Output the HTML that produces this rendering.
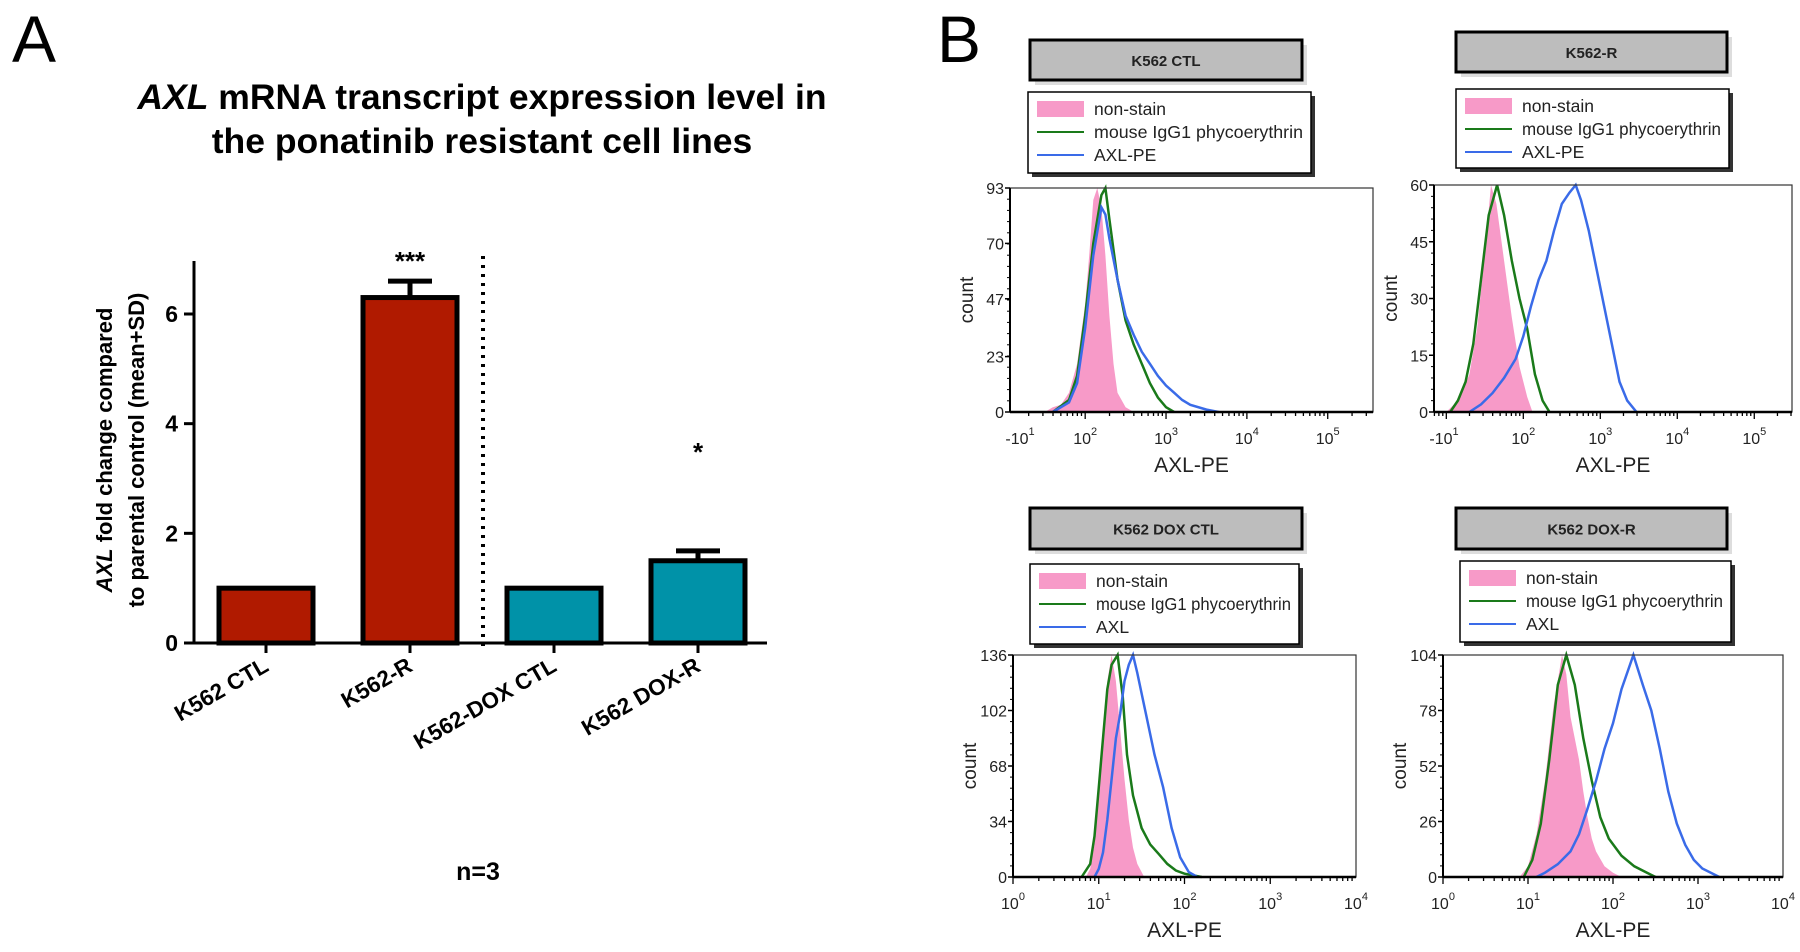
<!DOCTYPE html>
<html><head><meta charset="utf-8"><style>
html,body{margin:0;padding:0;background:#fff}
svg{display:block}
text{font-family:"Liberation Sans",sans-serif}
</style></head><body>
<svg id="fig" width="1800" height="952" viewBox="0 0 1800 952" xmlns="http://www.w3.org/2000/svg">
<text x="12" y="62" font-size="66">A</text>
<text x="937" y="62" font-size="66">B</text>
<g font-weight="bold" font-size="35.5" text-anchor="middle">
<text x="482" y="109"><tspan font-style="italic">AXL</tspan> mRNA transcript expression level in</text>
<text x="482" y="153">the ponatinib resistant cell lines</text>
</g>
<g font-weight="bold" font-size="22" text-anchor="middle">
<text transform="translate(112,450) rotate(-90)"><tspan font-style="italic">AXL</tspan> fold change compared</text>
<text transform="translate(144,450) rotate(-90)">to parental control (mean+SD)</text>
</g>
<text x="478" y="880" font-size="25" font-weight="bold" text-anchor="middle">n=3</text>
<g id="barchart"></g>
<g id="flow"></g>
</svg>
<script>
// ---- Bar chart data ----
const barCategories = ["K562 CTL", "K562-R", "K562-DOX CTL", "K562 DOX-R"];
const barMeans = [1.0, 6.3, 1.0, 1.5];
const barSD = [0, 0.3, 0, 0.18];
const barStars = ["", "***", "", "*"];
const yTicks = [0, 2, 4, 6];

// ---- Flow histogram data (log10 intensity, count) ----
const tlPinkX = [1.5,1.6,1.7,1.8,1.9,2.0,2.05,2.1,2.15,2.2,2.25,2.3,2.35,2.4,2.5,2.6];
const tlPinkY = [0,2,3,8,20,45,65,88,93,85,65,40,20,8,2,0];
const tlGreenX = [1.6,1.8,1.9,2.0,2.1,2.2,2.25,2.3,2.4,2.5,2.6,2.7,2.8,2.9,3.0,3.1];
const tlGreenY = [0,5,15,40,70,90,93,80,55,38,28,20,12,6,2,0];
const tlBlueX = [1.6,1.8,1.9,2.0,2.1,2.2,2.25,2.3,2.4,2.5,2.6,2.7,2.8,2.9,3.0,3.1,3.2,3.3,3.5,3.65];
const tlBlueY = [0,4,12,35,65,85,82,72,55,40,32,25,20,15,11,8,5,3,1,0];
const trPinkX = [1.0,1.1,1.2,1.3,1.4,1.5,1.58,1.65,1.75,1.85,1.95,2.05,2.12];
const trPinkY = [0,2,5,10,22,42,60,55,40,25,12,4,0];
const trGreenX = [1.05,1.15,1.25,1.35,1.45,1.55,1.66,1.75,1.85,1.95,2.05,2.15,2.25,2.34];
const trGreenY = [0,3,8,18,35,52,60,52,40,30,22,10,3,0];
const trBlueX = [1.3,1.45,1.6,1.75,1.9,2.0,2.1,2.2,2.3,2.4,2.5,2.6,2.68,2.75,2.85,2.95,3.05,3.15,3.25,3.35,3.47];
const trBlueY = [0,2,5,9,14,20,28,35,40,48,55,58,60,56,48,38,28,18,8,3,0];
const blPinkX = [0.85,0.9,0.95,1.0,1.05,1.1,1.15,1.2,1.25,1.3,1.35,1.4,1.45,1.53];
const blPinkY = [0,5,20,50,85,120,136,120,90,60,35,18,8,0];
const blGreenX = [0.8,0.9,0.95,1.0,1.05,1.1,1.15,1.22,1.28,1.33,1.4,1.5,1.6,1.7,1.8,1.9,2.0,2.2];
const blGreenY = [0,8,25,55,85,115,130,136,110,75,50,30,20,14,8,4,2,0];
const blBlueX = [0.95,1.0,1.05,1.1,1.15,1.2,1.25,1.3,1.35,1.4,1.45,1.55,1.65,1.75,1.85,1.95,2.05,2.15];
const blBlueY = [0,5,15,35,60,85,100,120,130,136,125,100,75,55,30,12,3,0];
const brPinkX = [0.9,1.0,1.1,1.2,1.3,1.4,1.45,1.5,1.6,1.65,1.7,1.75,1.8,1.9,2.0,2.1];
const brPinkY = [0,5,20,45,80,104,95,75,55,40,28,18,12,5,2,0];
const brGreenX = [0.95,1.05,1.15,1.25,1.35,1.45,1.55,1.65,1.75,1.85,1.95,2.1,2.25,2.4,2.5];
const brGreenY = [0,8,25,55,90,104,90,65,45,28,18,10,5,2,0];
const brBlueX = [1.1,1.2,1.35,1.5,1.6,1.7,1.8,1.9,2.0,2.1,2.24,2.35,2.45,2.55,2.65,2.75,2.85,2.95,3.05,3.25];
const brBlueY = [0,2,6,12,20,32,45,60,72,88,104,90,78,60,40,25,15,8,4,0];

const NS = "http://www.w3.org/2000/svg";
function mk(tag, attrs, parent) {
  const e = document.createElementNS(NS, tag);
  for (const k in attrs) e.setAttribute(k, attrs[k]);
  if (parent) parent.appendChild(e);
  return e;
}

// ---- Bar chart ----
(function(){
  const g = document.getElementById('barchart');
  const x0 = 194, x1 = 767, y0 = 643, yTop = 261, unit = (643 - 314) / 6;
  const yS = v => y0 - v * unit;
  const step = 144, first = 266, bw = 94;
  const colors = ["#b01a00", "#b01a00", "#0092a8", "#0092a8"];
  barCategories.forEach((c, i) => {
    const cx = first + i * step;
    const r = mk('rect', {x: cx - bw/2, y: yS(barMeans[i]), width: bw, height: y0 - yS(barMeans[i]), fill: colors[i], stroke: '#000', 'stroke-width': 5}, g);
    
    
    if (barSD[i] > 0) {
      const eb = mk('path', {d: `M${cx},${yS(barMeans[i])} V${yS(barMeans[i]+barSD[i])} M${cx-22},${yS(barMeans[i]+barSD[i])} H${cx+22}`, stroke: '#000', 'stroke-width': 5, fill: 'none'}, g);
      
      
    }
    if (barStars[i]) {
      const st = mk('text', {x: cx, y: barStars[i].length > 1 ? 270 : 461, 'font-size': 26, 'font-weight': 'bold', 'text-anchor': 'middle'}, g);
      st.textContent = barStars[i];
      
      
    }
    mk('line', {x1: cx, x2: cx, y1: y0, y2: y0 + 10, stroke: '#000', 'stroke-width': 3}, g);
    const t = mk('text', {transform: `translate(${cx + 4},${y0 + 27}) rotate(-30)`, 'font-size': 22.5, 'font-weight': 'bold', 'text-anchor': 'end'}, g);
    t.textContent = c;
    
    
  });
  const ax = mk('path', {d: `M${x0},${yTop} V${y0} H${x1}`, stroke: '#000', 'stroke-width': 3, fill: 'none'}, g);
  
  
  yTicks.forEach(v => {
    mk('line', {x1: x0 - 10, x2: x0, y1: yS(v), y2: yS(v), stroke: '#000', 'stroke-width': 3}, g);
    const t = mk('text', {x: x0 - 16, y: yS(v) + 8, 'font-size': 23, 'font-weight': 'bold', 'text-anchor': 'end'}, g);
    t.textContent = v;
    
    
  });
  const dl = mk('line', {x1: 483, x2: 483, y1: 256, y2: 652, stroke: '#000', 'stroke-width': 4, 'stroke-dasharray': '3 6'}, g);
  
  
})();

// ---- Flow panels ----
const panels = [
  {title:"K562 CTL", tb:[1030,40,272,40], lb:[1028,92,283,81], box:[1010,188,1373,412], dom:[1.07,5.56], ymax:93, yt:[0,23,47,70,93], xl:[[1,"-10","1"],[2,"10","2"],[3,"10","3"],[4,"10","4"],[5,"10","5"]], lbl:"AXL-PE", neg:true,
   pink:[tlPinkX,tlPinkY], green:[tlGreenX,tlGreenY], blue:[tlBlueX,tlBlueY]},
  {title:"K562-R", tb:[1456,32,271,40], lb:[1456,89,273,79], box:[1434,185,1792,412], dom:[0.84,5.49], ymax:60, yt:[0,15,30,45,60], xl:[[1,"-10","1"],[2,"10","2"],[3,"10","3"],[4,"10","4"],[5,"10","5"]], lbl:"AXL-PE", neg:true,
   pink:[trPinkX,trPinkY], green:[trGreenX,trGreenY], blue:[trBlueX,trBlueY]},
  {title:"K562 DOX CTL", tb:[1030,508,272,41], lb:[1030,564,269,80], box:[1013,655,1356,877], dom:[0,4], ymax:136, yt:[0,34,68,102,136], xl:[[0,"10","0"],[1,"10","1"],[2,"10","2"],[3,"10","3"],[4,"10","4"]], lbl:"AXL", neg:false,
   pink:[blPinkX,blPinkY], green:[blGreenX,blGreenY], blue:[blBlueX,blBlueY]},
  {title:"K562 DOX-R", tb:[1456,508,271,41], lb:[1460,561,271,81], box:[1443,655,1783,877], dom:[0,4], ymax:104, yt:[0,26,52,78,104], xl:[[0,"10","0"],[1,"10","1"],[2,"10","2"],[3,"10","3"],[4,"10","4"]], lbl:"AXL", neg:false,
   pink:[brPinkX,brPinkY], green:[brGreenX,brGreenY], blue:[brBlueX,brBlueY]}
];
const flow = document.getElementById('flow');
panels.forEach((p, pi) => {
  const g = mk('g', {}, flow);
  
  
  const [bx0, by0, bx1, by1] = p.box;
  const xS = l => bx0 + (l - p.dom[0]) / (p.dom[1] - p.dom[0]) * (bx1 - bx0);
  const yS = v => by1 - v / p.ymax * (by1 - by0);
  const [tx, ty, tw, th] = p.tb;
  mk('rect', {x: tx+5, y: ty+5, width: tw, height: th, fill: '#ddd'}, g);
  const tr = mk('rect', {x: tx, y: ty, width: tw, height: th, fill: '#bdbdbd', stroke: '#000', 'stroke-width': 3}, g);
  
  
  const tt = mk('text', {x: tx + tw/2, y: ty + th/2 + 6, 'font-size': 15, 'text-anchor': 'middle', fill: '#222', 'font-weight': 'bold'}, g);
  tt.textContent = p.title;
  
  
  const [lx, ly, lw, lh] = p.lb;
  mk('rect', {x: lx+4, y: ly+4, width: lw, height: lh, fill: '#333'}, g);
  const lr = mk('rect', {x: lx, y: ly, width: lw, height: lh, fill: '#fff', stroke: '#000', 'stroke-width': 1.5}, g);
  
  
  const entries = [["non-stain","#f79ac8","fill"],["mouse IgG1 phycoerythrin","#1a7a1a","line"],[p.lbl === "AXL" ? "AXL" : "AXL-PE","#3a6be8","line"]];
  entries.forEach((e, i) => {
    const ey = ly + 17 + i * 23;
    if (e[2] === "fill") mk('rect', {x: lx + 9, y: ey - 8, width: 47, height: 16, fill: e[1]}, g);
    else mk('line', {x1: lx + 9, x2: lx + 56, y1: ey, y2: ey, stroke: e[1], 'stroke-width': 2}, g);
    const et = mk('text', {x: lx + 66, y: ey + 6, 'font-size': 17.5, fill: '#222'}, g);
    et.textContent = e[0];
    if (e[0].length > 20) {
      et.setAttribute('textLength', lw - 74);
      et.setAttribute('lengthAdjust', 'spacingAndGlyphs');
    }
    
    
  });
  const ptsOf = s => s[0].map((x, i) => `${xS(x).toFixed(1)},${yS(s[1][i]).toFixed(1)}`).join(' ');
  const pk = mk('polygon', {points: ptsOf(p.pink) + ` ${xS(p.pink[0][p.pink[0].length-1])},${by1} ${xS(p.pink[0][0])},${by1}`, fill: '#f79ac8'}, g);
  
  
  const gr = mk('polyline', {points: ptsOf(p.green), fill: 'none', stroke: '#1a7a1a', 'stroke-width': 2.5}, g);
  
  
  const bl = mk('polyline', {points: ptsOf(p.blue), fill: 'none', stroke: '#3a6be8', 'stroke-width': 2.5}, g);
  
  
  mk('rect', {x: bx0, y: by0, width: bx1 - bx0, height: by1 - by0, fill: 'none', stroke: '#333', 'stroke-width': 1.2}, g);
  mk('line', {x1: bx0, x2: bx1, y1: by1, y2: by1, stroke: '#000', 'stroke-width': 2.5}, g);
  mk('line', {x1: bx0, x2: bx0, y1: by0, y2: by1, stroke: '#000', 'stroke-width': 2}, g);
  p.yt.forEach(v => {
    mk('line', {x1: bx0 - 5, x2: bx0, y1: yS(v), y2: yS(v), stroke: '#000', 'stroke-width': 1.5}, g);
    const t = mk('text', {x: bx0 - 6, y: yS(v) + 6, 'font-size': 16, 'text-anchor': 'end', fill: '#222'}, g);
    t.textContent = v;
    
    
  });
  for (let i = 0; i < 20; i++) {
    const yy = by1 - i * (by1 - by0) / 20;
    mk('line', {x1: bx0 - 3, x2: bx0, y1: yy, y2: yy, stroke: '#000', 'stroke-width': 1}, g);
  }
  for (let d = Math.floor(p.dom[0]); d < p.dom[1]; d++) {
    for (let m = 1; m < 10; m++) {
      const l = d + Math.log10(m);
      if (l < p.dom[0] || l > p.dom[1]) continue;
      mk('line', {x1: xS(l), x2: xS(l), y1: by1, y2: by1 + (m === 1 ? 7 : 4), stroke: '#000', 'stroke-width': 1.3}, g);
    }
  }
  p.xl.forEach(([l, base, ex], i) => {
    let xx = xS(l);
    if (p.neg && i === 0) xx = bx0 + 10;
    const t = mk('text', {x: xx, y: by1 + 32, 'font-size': 16, 'text-anchor': 'middle', fill: '#222'}, g);
    t.textContent = base;
    const s = mk('tspan', {dy: -9, 'font-size': 11}, t);
    s.textContent = ex;
    
    
  });
  const xt = mk('text', {x: (bx0 + bx1) / 2, y: by1 + 60, 'font-size': 21, 'text-anchor': 'middle', fill: '#222'}, g);
  xt.textContent = "AXL-PE";
  
  
  const yt = mk('text', {transform: `translate(${bx0 - 37},${(by0 + by1) / 2}) rotate(-90)`, 'font-size': 19, 'text-anchor': 'middle', fill: '#222'}, g);
  yt.textContent = "count";
  
  
});
</script>
</body></html>
